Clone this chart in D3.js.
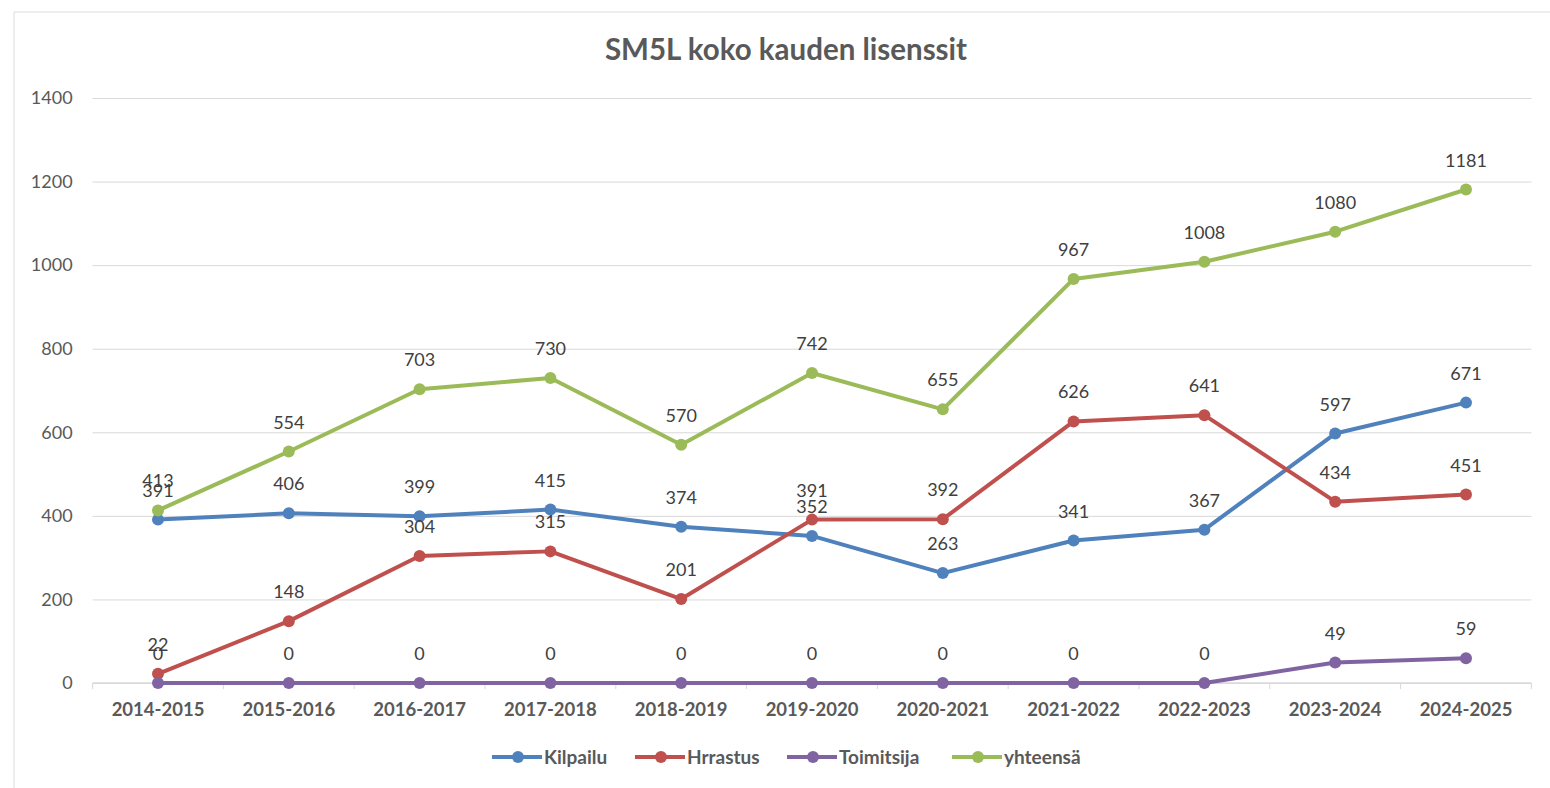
<!DOCTYPE html>
<html>
<head>
<meta charset="utf-8">
<script src="https://cdn.jsdelivr.net/npm/d3@7"></script>
<style>
  body { margin: 0; background: #fff; }
  svg { display: block; font-family: Lato, "Open Sans", sans-serif; }
</style>
</head>
<body>
<svg width="1550" height="788"></svg>
<script>
// data
var seasons = ["2014-2015","2015-2016","2016-2017","2017-2018","2018-2019","2019-2020","2020-2021","2021-2022","2022-2023","2023-2024","2024-2025"]
var kilpailu = [391, 406, 399, 415, 374, 352, 263, 341, 367, 597, 671]
var hrrastus = [22, 148, 304, 315, 201, 391, 392, 626, 641, 434, 451]
var toimitsija = [0, 0, 0, 0, 0, 0, 0, 0, 0, 49, 59]
var yhteensa = [413, 554, 703, 730, 570, 742, 655, 967, 1008, 1080, 1181]
var seriesNames = ["Kilpailu", "Hrrastus", "Toimitsija", "yhteensä"]
var seriesColors = ["#4F81BD", "#C0504D", "#8064A2", "#9BBB59"]
var yTicks = [0, 200, 400, 600, 800, 1000, 1200, 1400]

var series = [kilpailu, hrrastus, toimitsija, yhteensa].map(function(v, i){
	return {name: seriesNames[i], color: seriesColors[i], values: v}
})

var svg = d3.select("svg")

// faint spreadsheet borders around the pasted chart
svg.append("line").attr("x1", 14).attr("x2", 1550).attr("y1", 12).attr("y2", 12)
	.style("stroke", "#dcdcdc").style("stroke-width", 1)
svg.append("line").attr("x1", 14).attr("x2", 14).attr("y1", 12).attr("y2", 788)
	.style("stroke", "#dcdcdc").style("stroke-width", 1)

// plot area (named to avoid window.top clash)
var plotL = 92.6, plotR = 1531.4, plotT = 98, plotB = 683

var x = d3.scaleBand().domain(seasons).range([plotL, plotR])
var y = d3.scaleLinear().domain([0, 1400]).range([plotB, plotT])
var cx = function(d, i){ return x(seasons[i]) + x.bandwidth() / 2 }

// title
svg.append("text")
	.attr("x", 786).attr("y", 60)
	.attr("text-anchor", "middle")
	.style("font-size", "29.5px").style("font-weight", "bold")
	.style("fill", "#595959")
	.text("SM5L koko kauden lisenssit")

// gridlines + y labels
var yAxis = svg.append("g")
	.attr("transform", "translate(" + plotL + ",0)")
	.call(d3.axisLeft(y).tickValues(yTicks).tickFormat(d3.format("d"))
		.tickSize(-(plotR - plotL)).tickPadding(20))
yAxis.select(".domain").remove()
yAxis.selectAll(".tick line").style("stroke", "#d9d9d9").style("stroke-width", 1)
yAxis.selectAll(".tick text").style("font-size", "18px").style("fill", "#595959")
	.style("font-family", "Lato, sans-serif")

// x axis with ticks between categories
var xg = svg.append("g").attr("transform", "translate(0," + plotB + ")")
xg.append("line").attr("x1", plotL).attr("x2", plotR)
	.style("stroke", "#d9d9d9").style("stroke-width", 1.5)
xg.selectAll("line.tk")
	.data(d3.range(seasons.length + 1))
	.enter().append("line")
	.attr("class", "tk")
	.attr("x1", function(i){ return plotL + i * x.step() })
	.attr("x2", function(i){ return plotL + i * x.step() })
	.attr("y1", 0).attr("y2", 6)
	.style("stroke", "#d9d9d9")
xg.selectAll("text")
	.data(seasons)
	.enter().append("text")
	.attr("x", function(d){ return x(d) + x.bandwidth() / 2 })
	.attr("y", 33)
	.attr("text-anchor", "middle")
	.style("font-size", "18.5px").style("font-weight", "bold")
	.style("fill", "#595959")
	.text(function(d){ return d })

// lines and markers
var line = d3.line().x(cx).y(function(d){ return y(d) })

var sg = svg.selectAll("g.series")
	.data(series)
	.enter().append("g")
	.attr("class", "series")

sg.append("path")
	.attr("d", function(s){ return line(s.values) })
	.style("fill", "none")
	.style("stroke", function(s){ return s.color })
	.style("stroke-width", 4)
	.style("stroke-linejoin", "round")

sg.each(function(s){
	d3.select(this).selectAll("circle")
		.data(s.values)
		.enter().append("circle")
		.attr("cx", cx)
		.attr("cy", function(d){ return y(d) })
		.attr("r", 6)
		.style("fill", s.color)
})

// data labels above points
series.forEach(function(s){
	svg.append("g").selectAll("text")
		.data(s.values)
		.enter().append("text")
		.attr("x", cx)
		.attr("y", function(d){ return y(d) - 23 })
		.attr("text-anchor", "middle")
		.style("font-size", "18px")
		.style("fill", "#404040")
		.text(function(d){ return d })
})

// legend
var legendX = [492, 635, 787, 952]
var lg = svg.selectAll("g.legend")
	.data(series)
	.enter().append("g")
	.attr("class", "legend")
	.attr("transform", function(s, i){ return "translate(" + legendX[i] + ",757)" })
lg.append("line").attr("x1", 0).attr("x2", 50)
	.style("stroke", function(s){ return s.color }).style("stroke-width", 4)
lg.append("circle").attr("cx", 26).attr("r", 6)
	.style("fill", function(s){ return s.color })
lg.append("text").attr("x", 52).attr("y", 7)
	.style("font-size", "19px").style("font-weight", "bold")
	.style("fill", "#595959")
	.text(function(s){ return s.name })
</script>
</body>
</html>
